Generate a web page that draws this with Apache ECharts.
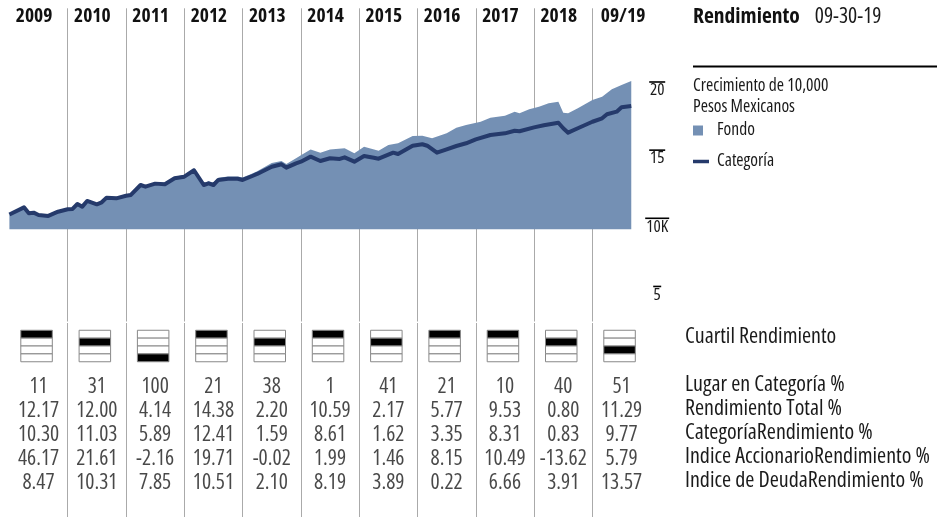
<!DOCTYPE html>
<html><head><meta charset="utf-8">
<script src="https://cdn.jsdelivr.net/npm/echarts@6/dist/echarts.min.js"></script>
<style>html,body{margin:0;padding:0;background:#fff}#c{width:947px;height:518px}</style>
</head><body><div id="c"></div>
<script>
// ---------- DATA ----------
const years = ['2009','2010','2011','2012','2013','2014','2015','2016','2017','2018','09/19'];
const quartiles = [1,2,4,1,2,1,2,1,1,2,3];
const lugarCategoria = [11,31,100,21,38,1,41,21,10,40,51];
const rendTotal = [12.17,12.00,4.14,14.38,2.20,10.59,2.17,5.77,9.53,0.80,11.29];
const catRend = [10.30,11.03,5.89,12.41,1.59,8.61,1.62,3.35,8.31,0.83,9.77];
const indiceAcc = [46.17,21.61,-2.16,19.71,-0.02,1.99,1.46,8.15,10.49,-13.62,5.79];
const indiceDeuda = [8.47,10.31,7.85,10.51,2.10,8.19,3.89,0.22,6.66,3.91,13.57];
const rowLabels = ['Lugar en Categoría %','Rendimiento Total %','CategoríaRendimiento %','Indice AccionarioRendimiento %','Indice de DeudaRendimiento %'];
const quartileLabel = 'Cuartil Rendimiento';
const yTicks = [5,10,15,20];
const yTickLabels = ['5','10K','15','20'];
// months counted from Jan 2009
const fundMonths = [0,3,4,5,6,8,10,12,13,14,15,16,18,19,20,22,24,25,27,28,30,32,34,36,38,40,41,42,43,45,47,48,50,51,54,56,57,59,60,62,64,66,69,71,73,76,78,80,83,85,87,90,92,94,97,99,102,104,105,107,109,111,113,114,115,117,120,122,124,126,128];
const fundValues = [10.20,10.78,10.33,10.38,10.21,10.15,10.46,10.65,10.67,11.05,10.85,11.28,11.03,11.18,11.53,11.48,11.68,11.74,12.48,12.36,12.58,12.54,12.98,13.11,13.60,12.52,12.64,12.53,12.90,13.00,13.00,12.92,13.22,13.38,13.98,14.13,13.91,14.33,14.55,14.97,14.74,14.98,15.06,14.70,15.18,14.88,15.30,15.43,15.97,15.99,15.80,16.17,16.57,16.77,17.01,17.31,17.45,17.75,17.63,17.92,18.11,18.36,18.48,17.67,17.63,18.00,18.61,18.85,19.39,19.71,20.00];
const catMonths = [0,3,4,5,6,8,10,12,13,14,15,16,18,19,20,22,24,25,27,28,30,32,34,36,38,40,41,42,43,45,47,48,50,51,54,56,57,59,60,62,64,66,68,69,71,73,75,76,79,80,83,85,86,88,90,92,94,96,99,102,104,105,108,110,113,114,115,117,120,122,123,125,126,128];
const catValues = [10.20,10.73,10.29,10.34,10.17,10.10,10.41,10.59,10.61,10.98,10.78,11.20,10.95,11.10,11.44,11.39,11.58,11.64,12.37,12.25,12.47,12.42,12.86,12.98,13.45,12.37,12.49,12.37,12.74,12.83,12.83,12.74,13.03,13.18,13.71,13.89,13.64,13.96,14.08,14.45,14.13,14.33,14.28,14.40,14.08,14.50,14.37,14.30,14.74,14.64,15.25,15.36,15.25,14.74,14.99,15.23,15.43,15.72,16.04,16.16,16.35,16.31,16.60,16.75,16.94,16.53,16.21,16.53,17.01,17.26,17.56,17.75,18.07,18.17];

// ---------- STYLE / LAYOUT ----------
const F = {fontFamily: "'Open Sans'", fontStyle: 'condensed'};
const TXT = '#1a1a1a';
const GRID_L = 9.4, GRID_W = 641.3;
const LINE_C = '#aaaaaa';
const FUND_C = '#7490b4', CAT_C = '#253a6b';
const TS = 21.5; // table text size
const LS = 22;   // row label size

const tableRows = [
  lugarCategoria.map(v => String(v)),
  rendTotal.map(v => v.toFixed(2)),
  catRend.map(v => v.toFixed(2)),
  indiceAcc.map(v => v.toFixed(2)),
  indiceDeuda.map(v => v.toFixed(2))
];
const tableData = [];
tableRows.forEach((row, r) => row.forEach((t, c) => tableData.push([c, r, t])));

const splitCfg = {show: true, interval: 0, showMinLine: false, showMaxLine: false, lineStyle: {color: LINE_C, width: 1}};
const hidden = {axisLine: {show: false}, axisTick: {show: false}};

const olRich = {t: {...F, fontSize: 17, lineHeight: 15, color: TXT}};
[1,2,3].forEach(n => { olRich['ol' + n] = {width: n * 8, height: 1.6, lineHeight: 2, fontSize: 1, backgroundColor: '#000'}; });

const option = {
  animation: false,
  textStyle: {...F},
  title: [
    {left: 693, top: 4.5, padding: 0, text: '{a|Rendimiento}{b|09-30-19}',
     textStyle: {rich: {
       a: {...F, fontSize: 21.5, fontWeight: 'bold', color: '#111', lineHeight: 24},
       b: {...F, fontSize: 21.5, fontWeight: 'normal', color: TXT, padding: [0,0,0,15], lineHeight: 24}}}},
    {left: 693, top: 76, padding: 0, text: 'Crecimiento de 10,000\nPesos Mexicanos',
     textStyle: {...F, fontSize: 17.5, fontWeight: 'normal', color: TXT, lineHeight: 21}}
  ],
  legend: [
    {data: ['Fondo'], left: 693, top: 120.5, padding: 0, orient: 'vertical', selectedMode: false,
     icon: 'rect', itemWidth: 10, itemHeight: 10,
     textStyle: {...F, fontSize: 17.5, color: TXT, lineHeight: 20, padding: [0,0,0,9]}},
    {data: ['Categoría'], left: 693, top: 151.5, padding: 0, orient: 'vertical', selectedMode: false,
     icon: 'rect', itemWidth: 16, itemHeight: 3.5,
     textStyle: {...F, fontSize: 17.5, color: TXT, lineHeight: 20, padding: [0,0,0,3]}}
  ],
  graphic: [
    {type: 'line', shape: {x1: 693, y1: 66.5, x2: 937, y2: 66.5}, style: {stroke: '#000', lineWidth: 2}}
  ],
  grid: [
    {left: GRID_L, width: GRID_W, top: 8.3, height: 313.2, outerBoundsMode: 'none', containLabel: false},
    {left: GRID_L, width: GRID_W, top: 323, height: 50, outerBoundsMode: 'none', containLabel: false},
    {left: GRID_L, width: GRID_W, top: 373, height: 144, outerBoundsMode: 'none', containLabel: false}
  ],
  xAxis: [
    {type: 'value', gridIndex: 0, min: 2009, max: 2020, interval: 1, ...hidden,
     axisLabel: {show: false}, splitLine: splitCfg},
    {type: 'category', gridIndex: 0, position: 'top', data: years, ...hidden, splitLine: {show: false},
     axisLabel: {inside: true, margin: 8.6, verticalAlign: 'middle', interval: 0,
       formatter: (v, i) => (i === years.length - 1 ? '{l|' + v + '}' : '{y|' + v + '}'),
       rich: {y: {...F, fontSize: 19.5, fontWeight: 'bold', color: '#111', padding: [0,9,0,0]},
              l: {...F, fontSize: 19.5, fontWeight: 'bold', color: '#111', padding: [0,0,0,3]}}}},
    {type: 'category', gridIndex: 1, data: years, ...hidden, axisLabel: {show: false}, splitLine: splitCfg},
    {type: 'category', gridIndex: 2, data: years, ...hidden, axisLabel: {show: false}, splitLine: splitCfg}
  ],
  yAxis: [
    {type: 'value', gridIndex: 0, position: 'right', min: 2.355, max: 25.333, ...hidden, splitLine: {show: false},
     axisLabel: {customValues: yTicks, align: 'center', verticalAlign: 'top', margin: 6.5,
       formatter: v => { const s = yTickLabels[yTicks.indexOf(v)]; return '{ol' + s.length + '| }\n{t|' + s + '}'; },
       rich: olRich}},
    {type: 'category', gridIndex: 1, position: 'right', data: [quartileLabel], ...hidden, splitLine: {show: false},
     axisLabel: {...F, align: 'left', verticalAlign: 'bottom', lineHeight: 22, margin: 34.3, fontSize: LS, color: TXT}},
    {type: 'category', gridIndex: 2, position: 'right', inverse: true, data: rowLabels.concat(['']), ...hidden,
     splitLine: {show: false},
     axisLabel: {...F, align: 'left', margin: 34.3, fontSize: LS, color: TXT, interval: 0, padding: [4,0,0,0]}}
  ],
  series: [
    {name: 'Fondo', type: 'line', xAxisIndex: 0, yAxisIndex: 0, symbol: 'none', color: FUND_C,
     data: fundMonths.map((m, i) => [2009 + m / 12, fundValues[i]]),
     lineStyle: {width: 0, color: FUND_C}, areaStyle: {color: FUND_C, opacity: 1, origin: 9.12}, z: 2},
    {name: 'Categoría', type: 'line', xAxisIndex: 0, yAxisIndex: 0, symbol: 'none', color: CAT_C,
     data: catMonths.map((m, i) => [2009 + m / 12, catValues[i]]),
     lineStyle: {width: 4, color: CAT_C, join: 'round'}, z: 3},
    {type: 'custom', xAxisIndex: 2, yAxisIndex: 1, encode: {x: 0, y: 1},
     data: quartiles.map((q, i) => [i, 0, q]),
     renderItem: (params, api) => {
       const c = api.value(0), q = api.value(2);
       const pt = api.coord([c, 0]);
       const w = 31.5, h = 31.5, x0 = pt[0] - 2 - w / 2, y0 = pt[1] - 2 - h / 2;
       const children = [];
       for (let k = 0; k < 4; k++) {
         children.push({type: 'rect', shape: {x: x0, y: y0 + k * h / 4, width: w, height: h / 4},
           style: {fill: k === q - 1 ? '#000' : '#fff', stroke: '#888', lineWidth: 1}});
       }
       return {type: 'group', children};
     }},
    {type: 'scatter', xAxisIndex: 3, yAxisIndex: 2, symbolSize: 1, itemStyle: {color: 'rgba(0,0,0,0)'},
     data: tableData, silent: true,
     label: {show: true, position: 'inside', offset: [0, 2], formatter: p => p.data[2], ...F, fontSize: TS, color: TXT}}
  ]
};
const chart = echarts.init(document.getElementById('c'), null, {renderer: 'canvas'});
chart.setOption(option);
</script></body></html>
